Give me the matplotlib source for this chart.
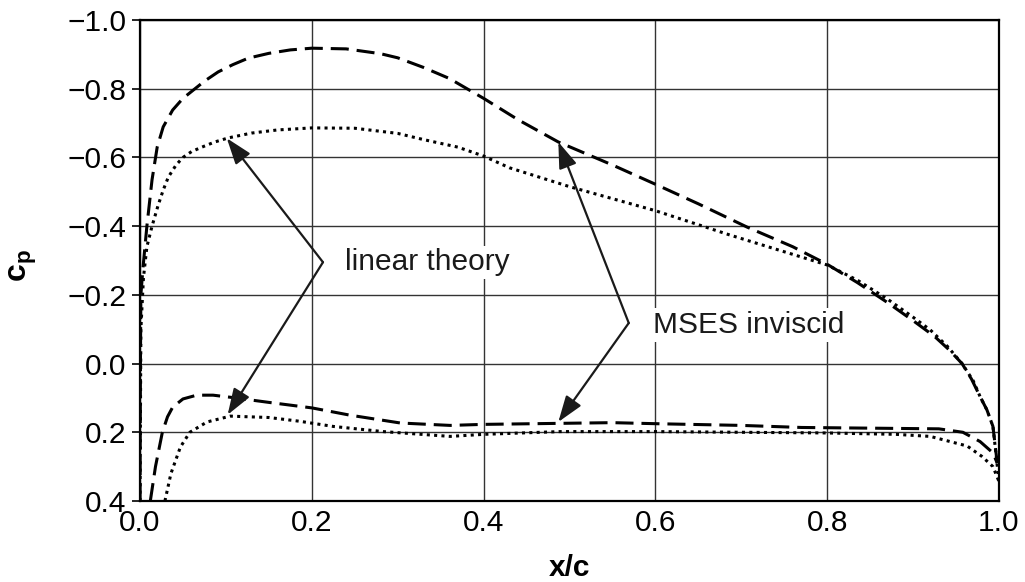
import matplotlib
matplotlib.use('Agg')
from matplotlib import pyplot as plt

plt.rcParams['font.family'] = ['Liberation Sans', 'DejaVu Sans']
plt.rcParams['mathtext.fontset'] = 'custom'
plt.rcParams['mathtext.bf'] = 'Liberation Sans:bold'
plt.rcParams['mathtext.rm'] = 'Liberation Sans'

# MSES inviscid, upper surface (dashed)
mses_up_x = [0.0, 0.0005, 0.001, 0.0035, 0.008, 0.014, 0.02, 0.027, 0.038, 0.05, 0.061, 0.075,
             0.091, 0.108, 0.126, 0.15, 0.175, 0.2, 0.24, 0.28, 0.3, 0.33, 0.36, 0.4, 0.44, 0.487,
             0.55, 0.6, 0.65, 0.707, 0.76, 0.8, 0.835, 0.87, 0.9, 0.925, 0.942, 0.957, 0.968,
             0.978, 0.986, 0.993, 0.998]
mses_up_cp = [0.4, 0.0, -0.2, -0.28, -0.4, -0.535, -0.63, -0.689, -0.738, -0.772, -0.794, -0.822,
              -0.849, -0.87, -0.889, -0.903, -0.913, -0.918, -0.916, -0.902, -0.89, -0.862, -0.83,
              -0.772, -0.71, -0.645, -0.578, -0.522, -0.465, -0.397, -0.34, -0.289, -0.236, -0.178,
              -0.125, -0.079, -0.04, 0.0, 0.045, 0.096, 0.135, 0.183, 0.29]

# linear theory, upper surface (dotted)
lin_up_x = [0.0, 0.001, 0.004, 0.008, 0.014, 0.021, 0.027, 0.033, 0.042, 0.05, 0.06, 0.072, 0.087,
            0.103, 0.13, 0.16, 0.2, 0.25, 0.3, 0.33, 0.37, 0.4, 0.43, 0.5, 0.6, 0.687, 0.8, 0.835,
            0.87, 0.9, 0.92, 0.94, 0.957, 0.97, 0.978, 0.986, 0.993, 1.0]
lin_up_cp = [0.4, -0.1, -0.25, -0.34, -0.40, -0.46, -0.505, -0.543, -0.578, -0.60, -0.617, -0.63,
             -0.645, -0.657, -0.671, -0.68, -0.686, -0.685, -0.67, -0.652, -0.63, -0.604, -0.57,
             -0.515, -0.445, -0.374, -0.287, -0.243, -0.188, -0.135, -0.098, -0.05, 0.0, 0.05, 0.096,
             0.135, 0.183, 0.343]

# MSES inviscid, lower surface (dashed)
mses_lo_x = [0.012, 0.018, 0.026, 0.032, 0.038, 0.05, 0.066, 0.085, 0.105, 0.15, 0.2, 0.244, 0.303,
             0.361, 0.4, 0.489, 0.55, 0.6, 0.7, 0.77, 0.85, 0.93, 0.958, 0.978, 0.993, 0.998]
mses_lo_cp = [0.4, 0.3, 0.2, 0.155, 0.127, 0.103, 0.092, 0.092, 0.098, 0.113, 0.129, 0.15, 0.173,
              0.18, 0.177, 0.174, 0.172, 0.175, 0.18, 0.186, 0.188, 0.19, 0.2, 0.227, 0.26, 0.29]

# linear theory, lower surface (dotted)
lin_lo_x = [0.029, 0.036, 0.047, 0.058, 0.078, 0.105, 0.15, 0.186, 0.225, 0.283, 0.361, 0.4, 0.489,
            0.6, 0.7, 0.8, 0.88, 0.92, 0.963, 0.98, 0.993, 1.0]
lin_lo_cp = [0.4, 0.32, 0.243, 0.2, 0.17, 0.153, 0.157, 0.168, 0.183, 0.198, 0.212, 0.206, 0.198,
             0.198, 0.2, 0.202, 0.206, 0.212, 0.24, 0.27, 0.30, 0.343]

x_ticks = [0.0, 0.2, 0.4, 0.6, 0.8, 1.0]
y_ticks = [-1.0, -0.8, -0.6, -0.4, -0.2, 0.0, 0.2, 0.4]

fig = plt.figure(figsize=(10.25, 5.82), dpi=100)
ax = fig.add_axes([0.1366, 0.1392, 0.838, 0.8264])

dash = (0, (5.9, 2.6))
dot = (0, (1, 1.4))
ax.plot(mses_up_x, mses_up_cp, color='black', lw=2.2, linestyle=dash, zorder=3)
ax.plot(mses_lo_x, mses_lo_cp, color='black', lw=2.2, linestyle=dash, zorder=3)
ax.plot(lin_up_x, lin_up_cp, color='black', lw=2.2, linestyle=dot, zorder=3)
ax.plot(lin_lo_x, lin_lo_cp, color='black', lw=2.2, linestyle=dot, zorder=3)

ax.set_xlim(0, 1.0)
ax.set_ylim(0.4, -1.0)
ax.set_xticks(x_ticks)
ax.set_yticks(y_ticks)
ax.set_xticklabels([f'{v:.1f}' for v in x_ticks])
ax.set_yticklabels([f'{v:.1f}'.replace('-', '\u2212') for v in y_ticks])
ax.tick_params(axis='both', labelsize=21.5, color='black')
ax.tick_params(axis='y', length=6, width=1.2, pad=4)
ax.tick_params(axis='x', length=0, pad=6)
ax.grid(True, color='#333333', lw=1.0)
for s in ax.spines.values():
    s.set_linewidth(1.6)

ax.set_xlabel('x/c', fontsize=21.5, fontweight='bold')
ax.xaxis.set_label_coords(0.5, -0.11)
ax.set_ylabel(r'$\mathbf{c}_{\mathbf{p}}$', fontsize=23)
ax.yaxis.set_label_coords(-0.118, 0.49)

arrow = dict(arrowstyle='-|>,head_length=0.8,head_width=0.28', color='#1a1a1a', lw=1.6,
             shrinkA=0, shrinkB=0, mutation_scale=20)

# linear theory label and arrows
lt_vertex = (0.213, -0.295)
ax.annotate('', xy=(0.101, -0.656), xytext=lt_vertex, arrowprops=arrow, zorder=4)
ax.annotate('', xy=(0.102, 0.149), xytext=lt_vertex, arrowprops=arrow, zorder=4)
ax.text(0.2387, -0.295, 'linear theory', fontsize=21.5, ha='left', va='center', color='#1a1a1a',
        bbox=dict(facecolor='white', edgecolor='none', pad=2), zorder=5)

# MSES label and arrows
ms_vertex = (0.569, -0.118)
ax.annotate('', xy=(0.487, -0.645), xytext=ms_vertex, arrowprops=arrow, zorder=4)
ax.annotate('', xy=(0.487, 0.17), xytext=ms_vertex, arrowprops=arrow, zorder=4)
ax.text(0.597, -0.112, 'MSES inviscid', fontsize=21.5, ha='left', va='center', color='#1a1a1a',
        bbox=dict(facecolor='white', edgecolor='none', pad=2), zorder=5)

fig.savefig('out.png', dpi=100)
